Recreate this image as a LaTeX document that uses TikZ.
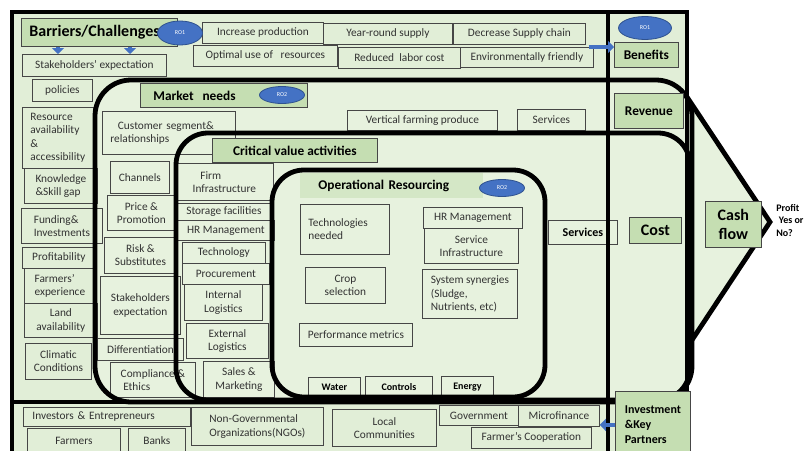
\documentclass[tikz,border=0pt]{standalone}
\usepackage{fontspec}
\setmainfont{Carlito}
\usetikzlibrary{shapes.geometric,arrows.meta}

\definecolor{bgout}{RGB}{225,238,215}
\definecolor{bgin}{RGB}{231,242,222}
\definecolor{headfill}{RGB}{197,222,178}
\definecolor{oplight}{RGB}{212,231,198}
\definecolor{cellline}{RGB}{70,70,70}
\definecolor{celltext}{RGB}{50,50,50}
\definecolor{roblue}{RGB}{68,114,196}
\definecolor{roedge}{RGB}{47,82,143}

\tikzset{
  wh/.style 2 args={minimum width=#1*0.75pt, minimum height=#2*0.75pt},
  cell/.style={draw=cellline, line width=0.6pt, inner sep=1pt, anchor=north west,
    text=celltext, font=\fontsize{8.5}{10}\selectfont, align=center},
  headbox/.style={cell, fill=headfill, text=black, font=\fontsize{10}{12}\selectfont\bfseries},
  rolabel/.style={ellipse, fill=roblue, draw=roedge, line width=0.6pt, inner sep=0pt,
    text=white, font=\fontsize{4.5}{5}\selectfont},
  region/.style={line width=3.6pt, line join=round},
  bluearrow/.style={draw=roblue, line width=3pt, -{Triangle[length=4.5pt,width=9pt]}},
}

\begin{document}
\begin{tikzpicture}[x=0.75pt,y=0.75pt,yscale=-1,xscale=1]
    \useasboundingbox (0,0) rectangle (806,450);
    \clip (0,0) rectangle (806,450);

    %Shape: background fills
    \fill[bgout] (12,12) rectangle (687,470);
    \fill[bgin] (687,97) -- (770,222) -- (690,343) -- cycle;
    \fill[bgin, rounded corners=27pt] (95,80) rectangle (692,402);
    \fill[bgin, rounded corners=24pt] (176,133) rectangle (690,400);
    \fill[bgin, rounded corners=24pt] (272,170) rectangle (545,397);

    % Text Node: top band
    \node[cell, wh={144}{22}] (stake) at (22,54) {Stakeholders' expectation};
    \node[cell, wh={121}{21}] (incprod) at (202,22) {Increase production};
    \node[cell, wh={129}{21}] (yearsup) at (323,23) {Year-round supply};
    \node[cell, wh={132}{21}] (decsup) at (453,23) {Decrease Supply chain};
    \node[cell, wh={144}{21}] (optuse) at (193,45) {Optimal use of\ \ \ resources};
    \node[cell, wh={122}{21}] (labcost) at (338,47) {Reduced\ \ labor cost};
    \node[cell, wh={133}{20}] (envfr) at (460,47) {Environmentally friendly};

    % Text Node: left column
    \node[cell, wh={60}{22}] (policies) at (32,79) {policies};
    \node[cell, wh={71}{61}, align=left] (resavail) at (22,107) {Resource\\availability\\\&\\accessibility};
    \node[cell, wh={73}{35}, align=left] (skill) at (24,168) {Knowledge\\\&Skill gap};
    \node[cell, wh={81}{35}, align=left] (funding) at (21,208) {Funding\&\\Investments};
    \node[cell, wh={73}{21}] (profitab) at (22,247) {Profitability};
    \node[cell, wh={71}{35}, align=left] (farmexp) at (24,268) {Farmers'\\experience};
    \node[cell, wh={73}{34}] (landav) at (24,303) {Land\\availability};
    \node[cell, wh={66}{36}] (climatic) at (25,343) {Climatic\\Conditions};

    % Text Node: market needs
    \node[cell, wh={133}{43}, inner xsep=6pt, text width=87.75pt, align=left] (custseg) at (102,111) {\ \ Customer segment\&\\relationships};
    \node[cell, wh={150}{20}] (vfprod) at (347,110) {Vertical farming produce};
    \node[cell, wh={68}{21}] (servtop) at (517,109) {Services};
    \node[cell, wh={59}{32}] (channels) at (110,161) {Channels};
    \node[cell, wh={68}{35}] (pricepro) at (107,195) {Price \&\\Promotion};
    \node[cell, wh={72}{36}] (risksub) at (104,237) {Risk \&\\Substitutes};
    \node[cell, wh={80}{58}] (stakeexp) at (100,276) {Stakeholders\\expectation};
    \node[cell, wh={86}{22}] (differ) at (97,338) {Differentiation};
    \node[cell, wh={85}{35}, align=left] (complian) at (110,362) {Compliance \&\\\ Ethics};
    \node[cell, wh={69}{24}, text=black, font=\fontsize{9}{11}\selectfont\bfseries] (servright) at (548,220) {Services};

    % Text Node: critical value activities
    \node[cell, wh={98}{37}, align=left] (firminf) at (175,163) {\ \ \ Firm\\Infrastructure};
    \node[cell, wh={93}{17}] (storage) at (177,203) {Storage facilities};
    \node[cell, wh={97}{20}] (hrleft) at (177,220) {HR Management};
    \node[cell, wh={83}{21}] (technlg) at (182,242) {Technology};
    \node[cell, wh={87}{21}] (procure) at (182,263) {Procurement};
    \node[cell, wh={78}{36}] (intlog) at (184,284) {Internal\\Logistics};
    \node[cell, wh={82}{35}] (extlog) at (186,323) {External\\Logistics};
    \node[cell, wh={71}{36}] (salesmkt) at (203,361) {Sales \&\\Marketing};

    % Text Node: operational resourcing
    \node[cell, wh={89}{50}, inner xsep=6pt, text width=54.75pt, align=left] (technd) at (300,204) {Technologies\\needed};
    \node[cell, wh={99}{21}] (hrop) at (423,207) {HR Management};
    \node[cell, wh={94}{35}] (servinf) at (424,228) {Service\\Infrastructure};
    \node[cell, wh={80}{36}] (cropsel) at (305,267) {Crop\\selection};
    \node[cell, wh={95}{49}, align=left] (synerg) at (422,269) {System synergies\\(Sludge,\\Nutrients, etc)};
    \node[cell, wh={113}{23}] (perfm) at (299,323) {Performance metrics};
    \node[cell, wh={52}{20}, text=black, font=\fontsize{7.5}{9}\selectfont\bfseries] (water) at (308,377) {Water};
    \node[cell, wh={67}{21}, text=black, font=\fontsize{7.5}{9}\selectfont\bfseries] (controls) at (365,376) {Controls};
    \node[cell, wh={52}{21}, text=black, font=\fontsize{7.5}{9}\selectfont\bfseries] (energy) at (441,376) {Energy};

    % Text Node: bottom band
    \node[cell, wh={167}{19}, inner xsep=6.75pt, text width=111.75pt, align=left] (investors) at (23,407) {Investors \& Entrepreneurs};
    \node[cell, wh={93}{24}] (farmers) at (27,428) {Farmers};
    \node[cell, wh={57}{24}] (banks) at (128,428) {Banks};
    \node[cell, wh={132}{38}, align=left] (ngos) at (191,407) {Non-Governmental\\Organizations(NGOs)};
    \node[cell, wh={104}{37}] (localcom) at (332,409) {Local\\Communities};
    \node[cell, wh={79}{20}] (govt) at (439,405) {Government};
    \node[cell, wh={81}{21}] (microfin) at (518,405) {Microfinance};
    \node[cell, wh={120}{21}] (farmcoop) at (471,427) {Farmer's Cooperation};

    %Shape: Rounded Rectangles and frame
    \draw[region, rounded corners=27pt] (95,80) rectangle (692,402);
    \draw[region, rounded corners=24pt] (176,133) rectangle (690,400);
    \draw[region, rounded corners=24pt] (272,170) rectangle (545,397);
    \draw[region, line join=miter] (687,97) -- (770,222) -- (690,343);
    \draw[region, line join=miter] (12,12) rectangle (687,470);
    \draw[region] (608,12) -- (608,460);
    \draw[region] (12,402) -- (615,402);

    % Text Node: headings
    \node[headbox, wh={156}{28}, font=\fontsize{12}{14}\selectfont\bfseries, inner xsep=6pt, text width=105pt, align=left] (barr) at (21,18) {Barriers/Challenges};
    \node[headbox, wh={167}{24}, inner xsep=9.75pt, text width=105.75pt, align=left] (mktlbl) at (140,83) {Market\ \ needs};
    \node[headbox, wh={165}{24}] (critlbl) at (212,138) {Critical value activities};
    \node[headbox, draw=none, fill=oplight, wh={183}{25}, inner xsep=13.5pt, text width=110.25pt, align=left] (oplbl) at (300,173) {Operational Resourcing};
    \node[headbox, wh={64}{25}] (benefits) at (614,42) {Benefits};
    \node[headbox, wh={69}{35}] (revenue) at (614,93) {Revenue};
    \node[headbox, wh={52}{26}, font=\fontsize{12}{14}\selectfont\bfseries] (cost) at (629,217) {Cost};
    \node[headbox, wh={56}{46}, font=\fontsize{12}{14}\selectfont\bfseries] (cashflow) at (705,201) {Cash\\flow};
    \node[headbox, wh={75}{67}, font=\fontsize{9}{11.25}\selectfont\bfseries, align=left] (invest) at (615,391) {Investment\\\&Key\\Partners};
    \node[anchor=north west, inner sep=0pt, align=left, font=\fontsize{7.5}{9.4}\selectfont\bfseries] (profit) at (776,204) {Profit\\\hspace{2pt}Yes or\\No?};

    % RO ellipses
    \node[rolabel, wh={45}{24}] (ro1a) at (180,33) {RO1};
    \node[rolabel, wh={53}{23}] (ro1b) at (645,28) {RO1};
    \node[rolabel, wh={45}{17}] (ro2a) at (282,95) {RO2};
    \node[rolabel, wh={45}{17}] (ro2b) at (502,188) {RO2};

    % Blue arrows
    \draw[bluearrow] ([xshift=27.75pt]barr.south west) -- ([xshift=27.75pt]barr.south west |- stake.north);
    \draw[bluearrow] ([xshift=81.75pt]barr.south west) -- ([xshift=81.75pt]barr.south west |- stake.north);
    \draw[bluearrow] ([xshift=-3.75pt]envfr.north east) -- (envfr.north east -| benefits.west);
    \draw[bluearrow] (invest.west) -- (invest.west -| microfin.east);

\end{tikzpicture}
\end{document}
